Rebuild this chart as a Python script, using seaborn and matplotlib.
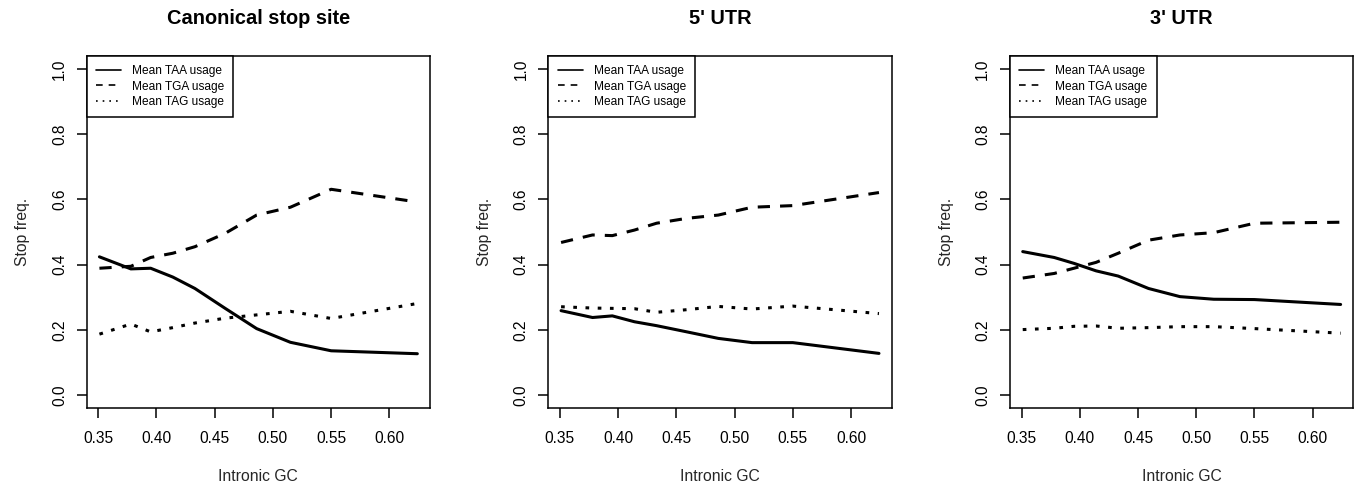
import numpy as np
import pandas as pd
import matplotlib
matplotlib.use("Agg")
import matplotlib.pyplot as plt
from matplotlib.lines import Line2D
import seaborn as sns

# Mean intronic GC of each bin
gc = [0.351, 0.378, 0.395, 0.414, 0.433, 0.459, 0.486, 0.515, 0.550, 0.624]

# Canonical stop site
taa_canonical = [0.424, 0.387, 0.389, 0.362, 0.327, 0.266, 0.204, 0.162, 0.136, 0.127]
tga_canonical = [0.389, 0.395, 0.422, 0.435, 0.455, 0.496, 0.552, 0.576, 0.631, 0.592]
tag_canonical = [0.187, 0.218, 0.194, 0.207, 0.221, 0.236, 0.246, 0.257, 0.235, 0.281]

# 5' UTR
taa_utr5 = [0.259, 0.238, 0.243, 0.225, 0.213, 0.194, 0.174, 0.161, 0.161, 0.128]
tga_utr5 = [0.468, 0.491, 0.489, 0.506, 0.527, 0.542, 0.552, 0.576, 0.581, 0.621]
tag_utr5 = [0.271, 0.267, 0.266, 0.265, 0.254, 0.262, 0.272, 0.264, 0.273, 0.250]

# 3' UTR
taa_utr3 = [0.440, 0.422, 0.404, 0.381, 0.365, 0.327, 0.302, 0.294, 0.293, 0.278]
tga_utr3 = [0.359, 0.373, 0.389, 0.407, 0.435, 0.475, 0.491, 0.498, 0.527, 0.530]
tag_utr3 = [0.201, 0.205, 0.211, 0.212, 0.205, 0.207, 0.210, 0.210, 0.204, 0.190]

panel_titles = ["Canonical stop site", "5' UTR", "3' UTR"]
codons = ["TAA", "TGA", "TAG"]
legend_labels = ["Mean TAA usage", "Mean TGA usage", "Mean TAG usage"]
x_ticks = [0.35, 0.40, 0.45, 0.50, 0.55, 0.60]
y_ticks = [0.0, 0.2, 0.4, 0.6, 0.8, 1.0]
x_label = "Intronic GC"
y_label = "Stop freq."

panel_series = [
    (taa_canonical, tga_canonical, tag_canonical),
    (taa_utr5, tga_utr5, tag_utr5),
    (taa_utr3, tga_utr3, tag_utr3),
]

sns.set_style("ticks")
plt.rcParams["font.family"] = ["Liberation Sans", "DejaVu Sans"]
plt.rcParams["text.color"] = "black"

line_dashes = {"TAA": "", "TGA": (4, 3.3), "TAG": (1.2, 2.8)}

fig = plt.figure(figsize=(13.57, 4.84), dpi=100)
lefts = [0.0639, 0.4041, 0.7443]
width, bottom, height = 0.253, 0.1566, 0.728

for left, title, series in zip(lefts, panel_titles, panel_series):
    ax = fig.add_axes([left, bottom, width, height])
    df = pd.DataFrame({
        "gc": np.tile(gc, 3),
        "freq": np.concatenate(series),
        "codon": np.repeat(codons, len(gc)),
    })
    sns.lineplot(data=df, x="gc", y="freq", style="codon", style_order=codons,
                 dashes=line_dashes, color="black", linewidth=2.2,
                 estimator=None, sort=False, legend=False, ax=ax)

    span = max(gc) - min(gc)
    ax.set_xlim(min(gc) - 0.04 * span, max(gc) + 0.04 * span)
    ax.set_ylim(-0.04, 1.04)
    ax.set_xticks(x_ticks)
    ax.set_xticklabels([f"{t:.2f}" for t in x_ticks])
    ax.set_yticks(y_ticks)
    ax.set_yticklabels([f"{t:.1f}" for t in y_ticks], rotation=90, va="center")
    ax.tick_params(axis="x", length=7, width=1.1, pad=9.5, labelsize=11.2, colors="black")
    ax.tick_params(axis="y", length=7, width=1.1, pad=7.2, labelsize=11.2, colors="black")
    for sp in ax.spines.values():
        sp.set_visible(True)
        sp.set_color("black")
        sp.set_linewidth(1.1)

    ax.set_xlabel(x_label, fontsize=11.3, va="center")
    ax.xaxis.set_label_coords(0.5, -0.195)
    ax.set_ylabel(y_label, fontsize=11.3, va="center")
    ax.yaxis.set_label_coords(-0.186, 0.5)
    ax.set_title(title, fontsize=14.4, fontweight="bold", y=1.1067, va="center", pad=0)

    handles = [
        Line2D([], [], color="black", lw=1.2, linestyle="-"),
        Line2D([], [], color="black", lw=1.2, linestyle=(0, (4, 3.6))),
        Line2D([], [], color="black", lw=1.2, linestyle=(0, (1, 3))),
    ]
    leg = ax.legend(handles, legend_labels, loc="upper left", bbox_to_anchor=(0, 1),
                    borderaxespad=0, fontsize=8.6, handlelength=2.1, handletextpad=0.9,
                    borderpad=0.78, labelspacing=0.28, fancybox=False, framealpha=1)
    frame = leg.get_frame()
    frame.set_edgecolor("black")
    frame.set_linewidth(1.1)

fig.savefig("out.png", dpi=100)
